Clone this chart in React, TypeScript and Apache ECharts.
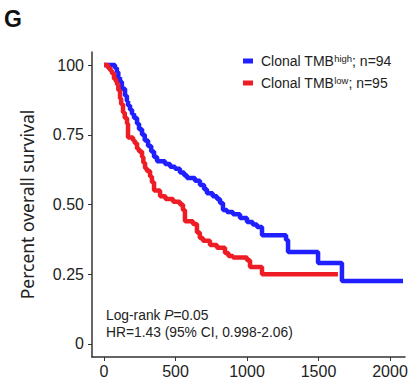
import React, { useEffect, useRef } from "react";
import * as echarts from "echarts";

const highDays = [0, 63, 77, 90, 100, 112, 125, 147, 160, 168, 182, 196, 210, 231, 245, 266, 285, 308, 330, 350, 371, 427, 462, 497, 531, 560, 580, 636, 671, 700, 720, 760, 790, 811, 832, 860, 902, 951, 1000, 1040, 1070, 1105, 1273, 1287, 1497, 1664, 2091];
const highSurv = [1, 1, 0.99, 0.975, 0.955, 0.94, 0.915, 0.89, 0.87, 0.855, 0.84, 0.825, 0.81, 0.79, 0.77, 0.75, 0.73, 0.71, 0.69, 0.67, 0.655, 0.645, 0.635, 0.628, 0.615, 0.605, 0.595, 0.585, 0.57, 0.555, 0.54, 0.53, 0.52, 0.505, 0.48, 0.473, 0.465, 0.452, 0.437, 0.428, 0.419, 0.39, 0.373, 0.33, 0.29, 0.226, 0.226];

const lowDays = [0, 28, 45, 56, 70, 84, 91, 100, 112, 120, 133, 145, 161, 168, 203, 215, 231, 245, 266, 275, 287, 300, 322, 335, 350, 392, 430, 483, 531, 552, 566, 622, 650, 670, 692, 741, 790, 846, 870, 902, 1000, 1021, 1105, 1636];
const lowSurv = [1, 0.99, 0.98, 0.97, 0.95, 0.94, 0.93, 0.91, 0.88, 0.86, 0.83, 0.81, 0.79, 0.74, 0.73, 0.72, 0.7, 0.69, 0.67, 0.65, 0.63, 0.62, 0.6, 0.58, 0.55, 0.53, 0.52, 0.51, 0.5, 0.48, 0.44, 0.43, 0.4, 0.38, 0.37, 0.355, 0.345, 0.326, 0.315, 0.31, 0.3, 0.276, 0.25, 0.25];

const xTicks = [0, 500, 1000, 1500, 2000];
const yTicks = [0, 0.25, 0.5, 0.75, 1];

const highName = "Clonal TMBhigh; n=94";
const lowName = "Clonal TMBlow; n=95";

const FONT = "'Liberation Sans', Arial, sans-serif";
const NAME_FONT = "'Noto Sans', 'Liberation Sans', sans-serif";
const BLUE = "#1f1fff";
const RED = "#ee1d25";

export default function App() {
  const ref = useRef<HTMLDivElement>(null);
  useEffect(() => {
    if (!ref.current) return;
    const chart = echarts.init(ref.current, null, { renderer: "svg" });
    const highData = highDays.map((d, i) => [d, highSurv[i]]);
    const lowData = lowDays.map((d, i) => [d, lowSurv[i]]);
    chart.setOption({
      animation: false,
      textStyle: { fontFamily: FONT },
      grid: { left: 92, right: 8, top: 52, bottom: 27, containLabel: false },
      xAxis: {
        type: "value",
        min: -84,
        max: 2105,
        splitLine: { show: false },
        axisLine: { onZero: false, lineStyle: { color: "#333", width: 1.5 } },
        axisTick: { customValues: xTicks, length: 4, lineStyle: { color: "#333" } },
        axisLabel: {
          customValues: xTicks,
          fontSize: 16,
          color: "#222",
          margin: 6,
          fontFamily: FONT,
          formatter: (v: number) => String(v),
        },
      },
      yAxis: {
        type: "value",
        min: -0.047,
        max: 1.047,
        name: "Percent overall survival",
        nameLocation: "middle",
        nameGap: 56,
        nameTextStyle: { fontSize: 17.5, color: "#222", fontFamily: NAME_FONT },
        splitLine: { show: false },
        axisLine: { show: true, onZero: false, lineStyle: { color: "#333", width: 1.5 } },
        axisTick: { show: true, customValues: yTicks, length: 4, lineStyle: { color: "#333" } },
        axisLabel: {
          customValues: yTicks,
          fontSize: 16,
          color: "#222",
          margin: 8,
          fontFamily: FONT,
          formatter: (v: number) => (v === 1 ? "100" : v === 0 ? "0" : v.toFixed(2)),
        },
      },
      legend: {
        orient: "vertical",
        left: 243,
        top: 53,
        padding: 0,
        itemGap: 6,
        itemWidth: 10,
        itemHeight: 5,
        icon: "rect",
        data: [highName, lowName],
        formatter: (name: string) =>
          name === highName ? "{a|Clonal TMB}{s|high}{a|; n=94}" : "{a|Clonal TMB}{s|low}{a|; n=95}",
        textStyle: {
          padding: [0, 0, 0, 3],
          rich: {
            a: { fontSize: 14, color: "#222", fontFamily: FONT, lineHeight: 16 },
            s: { fontSize: 9.5, color: "#222", fontFamily: FONT, verticalAlign: "top", lineHeight: 16, padding: [0, 0, 6, 0] },
          },
        },
      },
      series: [
        {
          name: highName,
          type: "line",
          step: "end",
          symbol: "none",
          data: highData,
          lineStyle: { color: BLUE, width: 4.5 },
          itemStyle: { color: BLUE },
        },
        {
          name: lowName,
          type: "line",
          step: "end",
          symbol: "none",
          data: lowData,
          lineStyle: { color: RED, width: 4.5 },
          itemStyle: { color: RED },
        },
      ],
      graphic: [
        {
          type: "text",
          left: 4,
          top: 7,
          style: { text: "G", fontSize: 23, fontWeight: "bold", fill: "#111", fontFamily: FONT },
        },
        {
          type: "text",
          left: 106,
          top: 308,
          style: {
            text: "{a|Log-rank }{i|P}{a|=0.05}",
            rich: {
              a: { fontSize: 13.8, fill: "#222", fontFamily: FONT },
              i: { fontSize: 13.8, fill: "#222", fontStyle: "italic", fontFamily: FONT },
            },
          },
        },
        {
          type: "text",
          left: 106,
          top: 325,
          style: { text: "HR=1.43 (95% CI, 0.998-2.06)", fontSize: 13.8, fill: "#222", fontFamily: FONT },
        },
      ],
    });
    return () => chart.dispose();
  }, []);
  return <div ref={ref} style={{ position: "absolute", left: 0, top: 0, width: 413, height: 384 }} />;
}
